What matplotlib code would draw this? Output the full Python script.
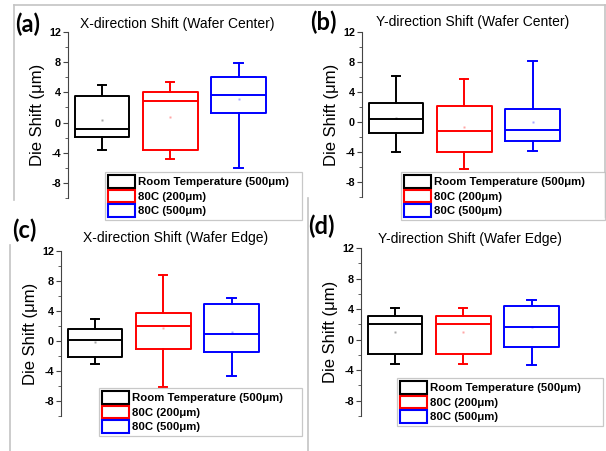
import matplotlib
matplotlib.use("Agg")
import matplotlib.pyplot as plt
from matplotlib.patches import Patch
from matplotlib.lines import Line2D
from matplotlib.ticker import MultipleLocator

W, H = 606, 451

series = ["Room Temperature (500μm)", "80C (200μm)", "80C (500μm)"]
colors = ["black", "red", "blue"]
letters = ["(a)", "(b)", "(c)", "(d)"]
titles = ["X-direction Shift (Wafer Center)", "Y-direction Shift (Wafer Center)",
          "X-direction Shift (Wafer Edge)", "Y-direction Shift (Wafer Edge)"]

# each list: Room Temperature (500um), 80C (200um), 80C (500um)
a_hi = [5.0, 5.4, 7.9]
a_q3 = [3.5, 4.0, 6.0]
a_med = [-0.8, 2.8, 3.7]
a_q1 = [-1.9, -3.6, 1.2]
a_lo = [-3.6, -4.8, -6.0]
a_mean = [0.3, 0.7, 3.1]

b_hi = [6.2, 5.8, 8.2]
b_q3 = [2.5, 2.2, 1.8]
b_med = [0.4, -1.2, -1.0]
b_q1 = [-1.5, -4.0, -2.5]
b_lo = [-4.0, -6.3, -3.9]
b_mean = [0.6, -0.7, 0.0]

c_hi = [3.0, 8.8, 5.8]
c_q3 = [1.6, 3.8, 5.0]
c_med = [0.1, 2.0, 1.0]
c_q1 = [-2.1, -1.1, -1.4]
c_lo = [-3.0, -6.1, -4.6]
c_mean = [-0.1, 1.8, 1.2]

d_hi = [4.2, 4.2, 5.2]
d_q3 = [3.1, 3.1, 4.4]
d_med = [2.0, 2.0, 1.7]
d_q1 = [-1.9, -1.9, -1.0]
d_lo = [-3.2, -3.2, -3.3]
d_mean = [1.0, 1.0, 1.6]

panels = [
    (a_lo, a_q1, a_med, a_q3, a_hi, a_mean),
    (b_lo, b_q1, b_med, b_q3, b_hi, b_mean),
    (c_lo, c_q1, c_med, c_q3, c_hi, c_mean),
    (d_lo, d_q1, d_med, d_q3, d_hi, d_mean),
]

# layout in pixels: axis x, y of "12", y of "-10"
ax_px = [(68, 32, 198), (362, 32, 197), (61, 251, 416), (361, 248, 416)]
title_px = [(177, 24), (473, 22), (176, 238), (470, 239)]
letter_px = [(15, 24), (310, 22), (12, 230), (308, 226)]
legend_px = [(105, 172, 197), (401, 172, 204), (99, 388, 203), (397, 378, 206)]

plt.rcParams["font.family"] = ["Liberation Sans", "DejaVu Sans"]
plt.rcParams["axes.unicode_minus"] = False


def fx(x):
    return x / W


def fy(y):
    return 1 - y / H


fig = plt.figure(figsize=(W / 100, H / 100), dpi=100)

# grey frames of the pasted sub-images
frame = "#c4c4c4"
for (x0, y0, x1, y1) in [(14, 5, 605, 5), (14, 5, 14, 200), (605, 5, 605, 217),
                         (10, 245, 10, 451), (308, 198, 308, 451)]:
    fig.add_artist(Line2D([fx(x0), fx(x1)], [fy(y0), fy(y1)], color=frame, lw=1.2))

for i, (lo, q1, med, q3, hi, mean) in enumerate(panels):
    x0, ytop, ybot = ax_px[i]
    ax = fig.add_axes([fx(x0), fy(ybot), 232 / W, (ybot - ytop) / H])
    ax.patch.set_alpha(0)
    for j in range(3):
        c = colors[j]
        st = dict(whislo=lo[j], q1=q1[j], med=med[j], q3=q3[j],
                  whishi=hi[j], mean=mean[j])
        ax.bxp([st], positions=[j + 1], widths=0.8, capwidths=0.12,
               showmeans=True, showfliers=False,
               boxprops=dict(color=c, lw=1.4),
               medianprops=dict(color=c, lw=1.4),
               whiskerprops=dict(color=c, lw=1.4),
               capprops=dict(color=c, lw=1.4),
               meanprops=dict(marker="s", ms=1.8, markerfacecolor=c,
                              markeredgecolor="none", alpha=0.35))
    ax.set_xlim(0.5, 3.9)
    ax.set_ylim(-10, 12)
    for s in ["top", "right", "bottom"]:
        ax.spines[s].set_visible(False)
    ax.spines["left"].set_color("#444444")
    ax.spines["left"].set_linewidth(0.8)
    ax.set_xticks([])
    ax.yaxis.set_minor_locator(MultipleLocator(2))
    ax.set_yticks([-8, -4, 0, 4, 8, 12])
    ax.tick_params(axis="y", which="major", length=3.5, width=0.8, color="#444444",
                   labelsize=7.8, pad=1.5)
    ax.tick_params(axis="y", which="minor", length=2, width=0.6, color="#444444")
    for t in ax.get_yticklabels():
        t.set_fontweight("bold")
    ax.set_ylabel("Die Shift (μm)", fontsize=12, labelpad=3)

    tx, ty = title_px[i]
    fig.text(fx(tx), fy(ty), titles[i], ha="center", va="center", fontsize=10)
    lx, ly = letter_px[i]
    fig.text(fx(lx), fy(ly), letters[i], ha="left", va="center", fontsize=17,
             fontweight="bold", family=["Lato", "DejaVu Sans"])

    gx, gy, gw = legend_px[i]
    handles = [Patch(facecolor="none", edgecolor=c, lw=1.5) for c in colors]
    leg = fig.legend(handles, series, loc="upper left",
                     bbox_to_anchor=(fx(gx), fy(gy), gw / W, 0.0),
                     mode="expand", borderaxespad=0, fancybox=False,
                     prop=dict(weight="bold", size=8.2), handlelength=2.3,
                     handleheight=1.3, handletextpad=0.3, labelspacing=0.18,
                     borderpad=0.3)
    leg.get_frame().set_edgecolor("#bbbbbb")
    leg.get_frame().set_linewidth(0.9)

fig.savefig("out.png", dpi=100)
